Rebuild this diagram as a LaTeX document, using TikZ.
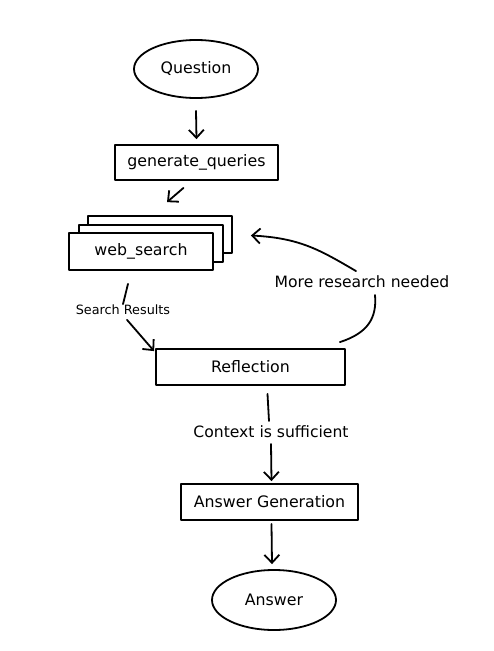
\documentclass[tikz,border=0pt]{standalone}
\usepackage{fontspec}
\setmainfont{DejaVu Sans}
\usetikzlibrary{arrows.meta,shapes.geometric,calc}
\begin{document}
\begin{tikzpicture}[x=1pt,y=-1pt, line width=1.8pt, line cap=round, line join=round,
  box/.style={draw, rectangle, minimum height=36pt, inner sep=0pt, fill=white, font=\fontsize{15.8}{18}\selectfont},
  oval/.style={draw, ellipse, minimum width=124pt, minimum height=58pt, inner sep=0pt, font=\fontsize{15.8}{18}\selectfont},
  lbl/.style={inner sep=1pt, font=\fontsize{15.6}{18}\selectfont},
  slbl/.style={inner sep=1pt, font=\fontsize{12.8}{15}\selectfont},
  arr/.style={-{Straight Barb[length=8pt,width=15pt,line width=1.8pt]}}]
\useasboundingbox (0,0) rectangle (494,651);
% nodes
\node[oval] (q) at (196,69) {Question};
\node[box, minimum width=163pt, minimum height=35pt] (gq) at (196.5,162.5) {generate\_queries};
\node[box, minimum width=144pt, minimum height=37pt] (w3) at (160,234.5) {};
\node[box, minimum width=144pt, minimum height=37pt] (w2) at (151,243.5) {};
\node[box, minimum width=144pt, minimum height=37pt] (ws) at (141,251.5) {web\_search};
\node[slbl] (sr) at (123,310) {Search Results};
\node[box, minimum width=189pt] (refl) at (250.5,367) {Reflection};
\node[lbl] (mr) at (362,282) {More research needed};
\node[lbl] (cs) at (271,432) {Context is sufficient};
\node[box, minimum width=177pt] (ag) at (269.5,502) {Answer Generation};
\node[oval, minimum height=60pt] (ans) at (274,600) {Answer};
% connectors
\draw[arr] ($(q.south)+(0,12)$) -- ($(gq.north)+(0,-5)$);
\draw[arr] ($(gq.south)+(-13,7)$) -- ($(w3.north)+(7,-13)$);
\draw ($(ws.south)+(-13,13)$) -- ($(sr.north)+(0,1)$);
\draw[arr] ($(sr.south)+(4,3)$) -- ($(refl.north west)+(-1,3)$);
\draw ($(refl.north east)+(-6,-6)$) .. controls (368,333) and (377,318) .. ($(mr.south)+(13,5)$);
\draw[arr] ($(mr.north)+(-6,-3)$) .. controls (320,250) and (300,238) .. ($(w3.east)+(18,1)$);
\draw ($(refl.south)+(17,8)$) -- ($(cs.north)+(-2,-3)$);
\draw[arr] ($(cs.south)+(0,4)$) -- ($(ag.north)+(2,-2)$);
\draw[arr] ($(ag.south)+(2,3)$) -- ($(ans.north)+(-2,-5)$);
\end{tikzpicture}
\end{document}
